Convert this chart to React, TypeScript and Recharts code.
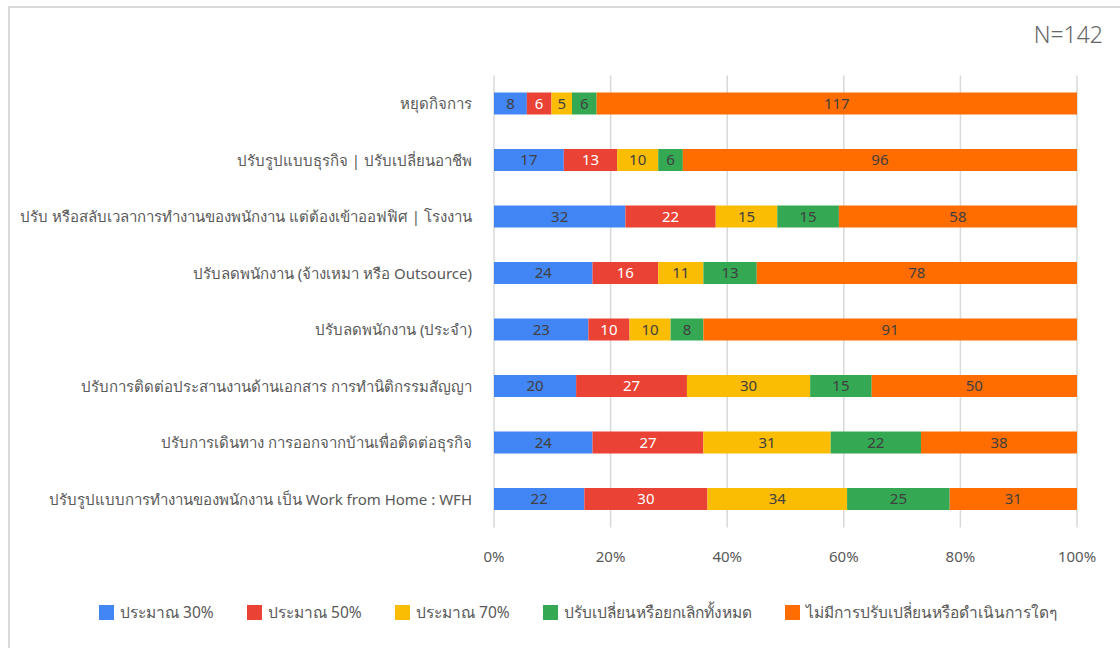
import React from 'react';
import { Bar, BarChart, CartesianGrid, LabelList, XAxis, YAxis } from 'recharts';

// categories, top to bottom
const categories = [
  'หยุดกิจการ',
  'ปรับรูปแบบธุรกิจ | ปรับเปลี่ยนอาชีพ',
  'ปรับ หรือสลับเวลาการทำงานของพนักงาน แต่ต้องเข้าออฟฟิศ | โรงงาน',
  'ปรับลดพนักงาน (จ้างเหมา หรือ Outsource)',
  'ปรับลดพนักงาน (ประจำ)',
  'ปรับการติดต่อประสานงานด้านเอกสาร การทำนิติกรรมสัญญา',
  'ปรับการเดินทาง การออกจากบ้านเพื่อติดต่อธุรกิจ',
  'ปรับรูปแบบการทำงานของพนักงาน เป็น Work from Home : WFH',
];

const about30 = [8, 17, 32, 24, 23, 20, 24, 22];
const about50 = [6, 13, 22, 16, 10, 27, 27, 30];
const about70 = [5, 10, 15, 11, 10, 30, 31, 34];
const cancelAll = [6, 6, 15, 13, 8, 15, 22, 25];
const noChange = [117, 96, 58, 78, 91, 50, 38, 31];

const xTicks = [0, 0.2, 0.4, 0.6, 0.8, 1];

const series = [
  { key: 's1', name: 'ประมาณ 30%', values: about30, color: '#4285F4', text: '#404040' },
  { key: 's2', name: 'ประมาณ 50%', values: about50, color: '#EA4335', text: '#ffffff' },
  { key: 's3', name: 'ประมาณ 70%', values: about70, color: '#FBBC04', text: '#404040' },
  { key: 's4', name: 'ปรับเปลี่ยนหรือยกเลิกทั้งหมด', values: cancelAll, color: '#34A853', text: '#404040' },
  { key: 's5', name: 'ไม่มีการปรับเปลี่ยนหรือดำเนินการใดๆ', values: noChange, color: '#FF6D00', text: '#404040' },
];

const data = categories.map((name, i) => {
  const row: Record<string, string | number> = { name };
  series.forEach((s) => {
    row[s.key] = s.values[i];
  });
  return row;
});

const FONT = '"Noto Sans", Tahoma, sans-serif';
const GREY = '#595959';
// left edge of each legend swatch
const legendX = [99, 247, 395, 543, 785];

export default function App() {
  return (
    <div
      style={{
        position: 'fixed',
        left: 0,
        top: 0,
        width: 1120,
        height: 648,
        overflow: 'hidden',
        background: '#fff',
        fontFamily: FONT,
      }}
    >
      {/* chart frame */}
      <div
        style={{
          position: 'absolute',
          left: 8,
          top: 6,
          width: 1130,
          height: 660,
          border: '2px solid #d9d9d9',
          boxSizing: 'border-box',
        }}
      />
      <div
        style={{
          position: 'absolute',
          right: 17,
          top: 18,
          fontSize: 23,
          fontWeight: 300,
          color: '#666',
        }}
      >
        N=142
      </div>

      <div style={{ position: 'absolute', left: 0, top: 0 }}>
        <BarChart
          width={1120}
          height={648}
          data={data}
          layout="vertical"
          stackOffset="expand"
          barSize={22}
          margin={{ top: 75.5, right: 43, bottom: 90.5, left: 0 }}
        >
          <CartesianGrid horizontal={false} stroke="#d9d9d9" strokeWidth={1.5} />
          <XAxis
            type="number"
            domain={[0, 1]}
            ticks={xTicks}
            tickFormatter={(v: number) => `${Math.round(v * 100)}%`}
            axisLine={false}
            tickLine={false}
            tickSize={0}
            tickMargin={24}
            height={30}
            tick={{ fill: GREY, fontSize: 15, fontFamily: FONT }}
          />
          <YAxis
            type="category"
            dataKey="name"
            width={494}
            axisLine={false}
            tickLine={false}
            tickSize={0}
            tickMargin={22}
            interval={0}
            tick={{ fill: GREY, fontSize: 15, fontFamily: FONT }}
          />
          {series.map((s) => (
            <Bar key={s.key} dataKey={s.key} name={s.name} stackId="a" fill={s.color} isAnimationActive={false}>
              <LabelList
                dataKey={s.key}
                position="center"
                fill={s.text}
                style={{ fontSize: 15, fontFamily: FONT }}
              />
            </Bar>
          ))}
        </BarChart>
      </div>

      {/* legend */}
      {series.map((s, i) => (
        <div
          key={s.key}
          style={{
            position: 'absolute',
            left: legendX[i],
            top: 602,
            height: 20,
            display: 'flex',
            alignItems: 'center',
            gap: 6,
            fontSize: 15.5,
            color: GREY,
            whiteSpace: 'nowrap',
          }}
        >
          <span style={{ width: 15, height: 15, background: s.color, display: 'inline-block' }} />
          <span>{s.name}</span>
        </div>
      ))}
    </div>
  );
}
